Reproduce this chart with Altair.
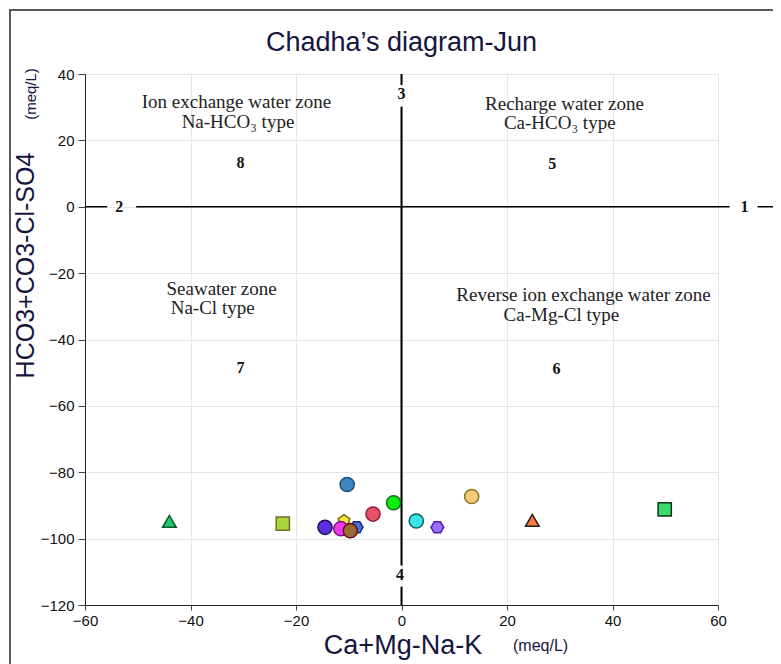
import altair as alt
import pandas as pd

# ---- sample points (Ca+Mg-Na-K, HCO3+CO3-Cl-SO4), in meq/L ----
sample_id = [f"S{i}" for i in range(1, 16)]
ca_mg_na_k = [-44.0, -22.5, -10.3, 13.3, -1.5, -5.4, 2.8, 24.8, 49.9, 6.8, -10.9, -8.5, -14.5, -11.5, -9.7]
hco3_co3_cl_so4 = [-94.8, -95.5, -83.7, -87.3, -89.2, -92.6, -94.7, -94.5, -91.2, -96.6, -94.6, -96.6, -96.6, -97.0, -97.6]
marker = ["triangle", "square", "circle", "circle", "circle", "circle", "circle", "triangle",
          "square", "hexagon", "pentagon", "hexagon", "circle", "circle", "circle"]

# ---- axis ticks ----
x_ticks = [-60, -40, -20, 0, 20, 40, 60]
y_ticks = [-120, -100, -80, -60, -40, -20, 0, 20, 40]

# ---- zone annotations ----
zone_text = ["Ion exchange water zone", "Na-HCO₃ type", "Recharge water zone", "Ca-HCO₃ type",
             "Seawater zone", "Na-Cl type", "Reverse ion exchange water zone", "Ca-Mg-Cl type"]
zone_x = [-31.3, -31.0, 30.9, 30.0, -34.1, -35.8, 34.5, 30.3]
zone_y = [31.5, 25.4, 30.9, 25.1, -24.8, -30.6, -26.6, -32.7]

# ---- numbered labels ----
num_text = ["1", "2", "3", "4", "5", "6", "7", "8"]
num_x = [65.0, -53.5, 0.0, -0.3, 28.6, 29.4, -30.5, -30.5]
num_y = [0.0, 0.0, 34.0, -111.0, 13.0, -48.8, -48.5, 13.3]

# ---- dividing lines (segments, with gaps for the numbers) ----
hline_x = [-60.0, -50.3, 67.5]
hline_x2 = [-55.8, 62.2, 75.0]
vline_y = [40.0, 30.1, -114.5]
vline_y2 = [36.7, -108.1, -120.0]

# ---- styles ----
fill_colors = ["#22c86a", "#a8d43c", "#3d86c4", "#f5ca7c", "#0bef0b", "#ea5068", "#38e6e6", "#ff7b3c",
               "#3ddc70", "#9a6cff", "#f6e640", "#4a6ee8", "#5b2fe0", "#ee38ee", "#9c6a36"]
stroke_colors = ["#0c5a2c", "#7a6a22", "#1e4e6e", "#8a7a22", "#1a6e1a", "#8a2030", "#0f6060", "#222222",
                 "#123212", "#5020a0", "#7a6a10", "#1c2f80", "#1a0a50", "#801080", "#6a1010"]
marker_types = ["circle", "triangle", "square", "hexagon", "pentagon"]
marker_shapes = ["circle", "triangle-up", "square",
                 "M-1,0L-0.5,-0.866L0.5,-0.866L1,0L0.5,0.866L-0.5,0.866Z",
                 "M0,-1L0.951,-0.309L0.588,0.809L-0.588,0.809L-0.951,-0.309Z"]
marker_sizes = [200, 150, 120, 180, 160]

NAVY = "#15153f"
XDOM = [-60, 60]
YDOM = [-120, 40]

pts = pd.DataFrame({"id": sample_id, "x": ca_mg_na_k, "y": hco3_co3_cl_so4, "marker": marker})
zones = pd.DataFrame({"t": zone_text, "x": zone_x, "y": zone_y})
nums = pd.DataFrame({"t": num_text, "x": num_x, "y": num_y})
hl = pd.DataFrame({"x": hline_x, "x2": hline_x2, "y": [0.0] * len(hline_x)})
vl = pd.DataFrame({"y": vline_y, "y2": vline_y2, "x": [0.0] * len(vline_y)})

xs = alt.Scale(domain=XDOM, nice=False, zero=False)
ys = alt.Scale(domain=YDOM, nice=False, zero=False)

x_axis = alt.Axis(
    values=x_ticks, title="Ca+Mg-Na-K", titleFontSize=27, titleFont="Liberation Sans",
    titleFontWeight="normal", titleColor=NAVY, titleX=317.5, titleY=40,
    titleAlign="center", titleBaseline="middle",
    labelFont="Liberation Sans", labelFontSize=15, labelColor="#111111", labelFlush=False,
    labelPadding=3, tickSize=5, tickColor="#444444", domainColor="#222222",
    grid=True, gridColor="#e6e6e6",
)
y_axis = alt.Axis(
    values=y_ticks, title="HCO3+CO3-Cl-SO4", titleFontSize=25, titleFont="Liberation Sans",
    titleFontWeight="normal", titleColor=NAVY, titleAngle=270, titleX=-60, titleY=191,
    titleAlign="center", titleBaseline="middle",
    labelFont="Liberation Sans", labelFontSize=15, labelColor="#111111", labelFlush=False,
    labelPadding=4, tickSize=7, tickColor="#444444", domainColor="#222222",
    grid=True, gridColor="#e6e6e6",
)


def X(field):
    return alt.X(field, scale=xs, axis=x_axis)


def Y(field):
    return alt.Y(field, scale=ys, axis=y_axis)


frame = alt.Chart(pd.DataFrame({"a": [0]})).mark_rect(
    fillOpacity=0, stroke="#5a5a5a", strokeWidth=2
).encode(
    x=alt.value(-75), x2=alt.value(720), y=alt.value(-64), y2=alt.value(620)
)

title_mark = alt.Chart(pd.DataFrame({"t": ["Chadha’s diagram-Jun"]})).mark_text(
    font="Liberation Sans", fontSize=27, color=NAVY, align="center", baseline="alphabetic"
).encode(x=alt.value(316.5), y=alt.value(-23), text="t:N")

base_pts = alt.Chart(pts).mark_point(filled=True, opacity=1, strokeWidth=1.5).encode(
    x=X("x:Q"),
    y=Y("y:Q"),
    fill=alt.Fill("id:N", scale=alt.Scale(domain=sample_id, range=fill_colors), legend=None),
    stroke=alt.Stroke("id:N", scale=alt.Scale(domain=sample_id, range=stroke_colors), legend=None),
    shape=alt.Shape("marker:N", scale=alt.Scale(domain=marker_types, range=marker_shapes), legend=None),
    size=alt.Size("marker:N", scale=alt.Scale(domain=marker_types, range=marker_sizes), legend=None),
    order=alt.Order("idx:Q"),
).transform_window(idx="row_number()")

hrule = alt.Chart(hl).mark_rule(color="#000000", strokeWidth=1.5).encode(
    x=X("x:Q"), x2="x2:Q", y=Y("y:Q")
)
vrule = alt.Chart(vl).mark_rule(color="#000000", strokeWidth=2).encode(
    x=X("x:Q"), y=Y("y:Q"), y2="y2:Q"
)

zone_lbl = alt.Chart(zones).mark_text(
    font="Liberation Serif", fontSize=19, color="#222222", align="center", baseline="middle"
).encode(x=X("x:Q"), y=Y("y:Q"), text="t:N")

num_lbl = alt.Chart(nums).mark_text(
    font="Liberation Serif", fontSize=16, fontWeight="bold", color="#111111",
    align="center", baseline="middle"
).encode(x=X("x:Q"), y=Y("y:Q"), text="t:N")

unit_y = alt.Chart(pd.DataFrame({"t": ["(meq/L)"]})).mark_text(
    font="Liberation Sans", fontSize=15, color=NAVY, angle=270, align="center", baseline="middle"
).encode(x=alt.value(-54), y=alt.value(20), text="t:N")

unit_x = alt.Chart(pd.DataFrame({"t": ["(meq/L)"]})).mark_text(
    font="Liberation Sans", fontSize=16, color=NAVY, align="left", baseline="middle"
).encode(x=alt.value(428), y=alt.value(572), text="t:N")

chart = alt.layer(
    frame, hrule, vrule, zone_lbl, num_lbl, base_pts, unit_y, unit_x, title_mark
).properties(
    width=633,
    height=531,
    padding={"left": 77, "top": 66, "right": 55, "bottom": 59},
    autosize=alt.AutoSizeParams(type="none"),
).configure_view(stroke=None)

chart.save("out.html", embed_options={"renderer": "svg", "actions": False})
